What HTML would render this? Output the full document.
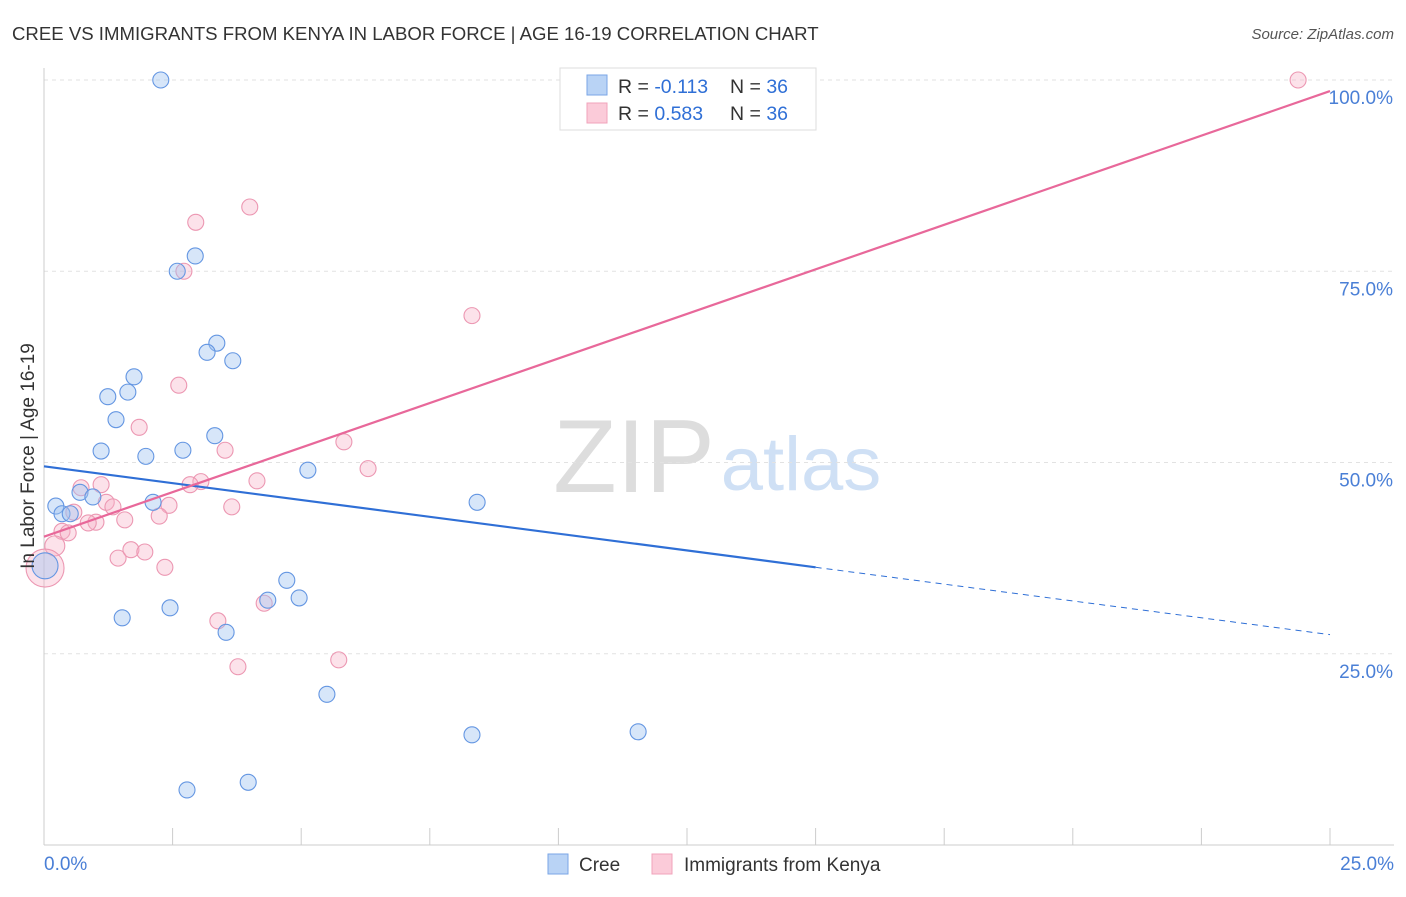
<!DOCTYPE html>
<html><head><meta charset="utf-8"><style>
body{margin:0;background:#fff;font-family:"Liberation Sans",sans-serif}
svg text{font-family:"Liberation Sans",sans-serif}
</style></head><body>
<svg id="c" width="1406" height="892" viewBox="0 0 1406 892">
<text x="12" y="40" font-size="18.6" fill="#333">CREE VS IMMIGRANTS FROM KENYA IN LABOR FORCE | AGE 16-19 CORRELATION CHART</text>
<text x="1394" y="39" font-size="15" fill="#555" font-style="italic" text-anchor="end">Source: ZipAtlas.com</text>
<g>
<text x="634" y="492" font-size="104" fill="#ddd" font-family="Liberation Serif" text-anchor="middle">ZIP</text>
<text x="801" y="490" font-size="76" fill="#cfe0f5" text-anchor="middle">atlas</text>
</g>
<g id="grid"></g>
<g id="axes"></g>
<g id="marks"></g>
<text x="34" y="456" font-size="19" fill="#333" text-anchor="middle" transform="rotate(-90 34 456)">In Labor Force | Age 16-19</text>
<g>
<rect x="560" y="68" width="256" height="62" fill="#fff" stroke="#ddd"/>
<rect x="587" y="75" width="20" height="20" fill="#b9d3f5" stroke="#7aa6e6"/>
<rect x="587" y="103" width="20" height="20" fill="#fbcbd9" stroke="#f0a3bb"/>
<text x="618" y="93" font-size="19.5" fill="#333">R = <tspan fill="#2f6fd6">-0.113</tspan></text>
<text x="730" y="93" font-size="19.5" fill="#333">N = <tspan fill="#2f6fd6">36</tspan></text>
<text x="618" y="120" font-size="19.5" fill="#333">R = <tspan fill="#2f6fd6">0.583</tspan></text>
<text x="730" y="120" font-size="19.5" fill="#333">N = <tspan fill="#2f6fd6">36</tspan></text>
</g>
<g>
<rect x="548" y="854" width="20" height="20" fill="#b9d3f5" stroke="#7aa6e6"/>
<text x="579" y="871" font-size="19" fill="#333">Cree</text>
<rect x="652" y="854" width="20" height="20" fill="#fbcbd9" stroke="#f0a3bb"/>
<text x="684" y="871" font-size="19" fill="#333">Immigrants from Kenya</text>
</g>
</svg>
<script>
const creeX=[2.27,10.61,2.94,2.59,3.36,3.17,3.67,1.75,1.24,1.63,1.40,1.11,1.98,2.70,3.32,5.13,8.42,2.12,0.70,0.95,0.23,0.35,0.51,0.02,4.72,4.35,4.96,1.52,2.45,3.54,5.50,8.32,11.55,2.78,3.97];
const creeY=[100,100,77.0,75.0,65.6,64.4,63.3,61.2,58.6,59.2,55.6,51.5,50.8,51.6,53.5,49.0,44.8,44.8,46.1,45.5,44.3,43.3,43.3,36.5,34.6,32.0,32.3,29.7,31.0,27.8,19.7,14.4,14.8,7.2,8.2];
const creeR=[8,8,8,8,8,8,8,8,8,8,8,8,8,8,8,8,8,8,8,8,8,8,8,13,8,8,8,8,8,8,8,8,8,8,8];
const kenX=[24.38,4.00,2.95,2.72,8.32,2.62,1.85,3.52,5.83,6.30,4.14,3.05,2.84,1.11,0.72,0.58,1.21,1.34,2.43,3.65,1.57,2.24,1.01,0.86,0.35,0.47,0.21,1.44,1.69,1.96,2.35,0.02,3.38,4.28,3.77,5.73];
const kenY=[100,83.4,81.4,75.0,69.2,60.1,54.6,51.6,52.7,49.2,47.6,47.5,47.1,47.1,46.7,43.5,44.8,44.2,44.4,44.2,42.5,43.0,42.2,42.1,41.0,40.8,39.1,37.5,38.6,38.3,36.3,36.2,29.3,31.6,23.3,24.2];
const kenR=[8,8,8,8,8,8,8,8,8,8,8,8,8,8,8,8,8,8,8,8,8,8,8,8,8,8,10,8,8,8,8,19,8,8,8,8];
const creeLine=[49.5,-0.88];
const kenLine=[40.3,2.33];
const xTicks=["0.0%","25.0%"];
const yTicks=[25,50,75,100];
const yTickLabels=["25.0%","50.0%","75.0%","100.0%"];
const NS="http://www.w3.org/2000/svg";
const X=v=>44+v/25*1286, Y=v=>845-v/100*765;
function mk(t,a,p){const e=document.createElementNS(NS,t);for(const k in a)e.setAttribute(k,a[k]);p.appendChild(e);return e;}
const grid=document.getElementById('grid'),axes=document.getElementById('axes'),marks=document.getElementById('marks');
yTicks.forEach((v,i)=>{
 const l=mk('line',{x1:44,x2:1394,y1:Y(v),y2:Y(v),stroke:'#e2e2e2','stroke-dasharray':'4 4'},grid);
 
 
 const t=mk('text',{x:1393,y:Y(v)+24,'font-size':19,fill:'#4a7fd6','text-anchor':'end'},axes);t.textContent=yTickLabels[i];
 
 
});
let ax=mk('line',{x1:44,x2:44,y1:68,y2:845,stroke:'#ccc'},axes);


ax=mk('line',{x1:44,x2:1394,y1:845,y2:845,stroke:'#ccc'},axes);


for(let i=0;i<=10;i++){const tk=mk('line',{x1:X(i*2.5),x2:X(i*2.5),y1:828,y2:845,stroke:'#ccc'},axes);
 
 }
[[0,'start',44],[1,'end',1394]].forEach(([i,a,x])=>{const t=mk('text',{x:x,y:870,'font-size':19,fill:'#4a7fd6','text-anchor':a},axes);t.textContent=xTicks[i];
 
 });
function pts(xs,ys,rs,fill,stroke,name){xs.forEach((x,i)=>{const c=mk('circle',{cx:X(x),cy:Y(ys[i]),r:rs[i],fill:fill,stroke:stroke,'stroke-width':1.1},marks);
 
 });}
pts(kenX,kenY,kenR,'rgba(248,180,200,0.38)','#ec97b2','kenya-point');
pts(creeX,creeY,creeR,'rgba(160,195,240,0.42)','#6496e2','cree-point');
let l=mk('line',{x1:X(0),y1:Y(creeLine[0]),x2:X(15),y2:Y(creeLine[0]+creeLine[1]*15),stroke:'#2f6fd6','stroke-width':2.2},marks);


l=mk('line',{x1:X(15),y1:Y(creeLine[0]+creeLine[1]*15),x2:X(25),y2:Y(creeLine[0]+creeLine[1]*25),stroke:'#2f6fd6','stroke-width':1,'stroke-dasharray':'6 5'},marks);


l=mk('line',{x1:X(0),y1:Y(kenLine[0]),x2:X(25),y2:Y(kenLine[0]+kenLine[1]*25),stroke:'#e8689a','stroke-width':2.2},marks);


</script>
</body></html>
